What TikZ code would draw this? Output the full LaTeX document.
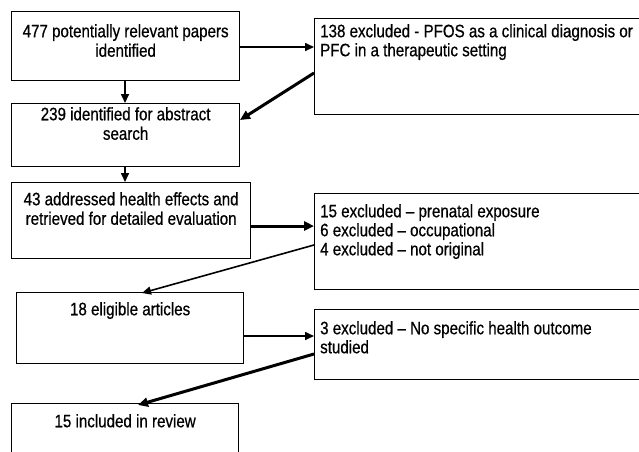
\documentclass[tikz,border=0pt]{standalone}
\usepackage{fontspec}
\setmainfont{Liberation Sans}[FakeStretch=0.84,FakeBold=0.6]
\usetikzlibrary{arrows.meta}
\begin{document}
\begin{tikzpicture}[x=1pt,y=-1pt,
  box/.style={draw=black,line width=1.3pt,anchor=north west,inner sep=0pt},
  ctext/.style={anchor=north,align=center,inner sep=0pt,font=\fontsize{18}{19.5}\selectfont},
  ltext/.style={anchor=north west,align=left,inner sep=0pt,font=\fontsize{18}{19}\selectfont},
  thin/.style={line width=1.6pt,-{Triangle[length=9pt,width=8pt]}},
  thick/.style={line width=3pt,-{Triangle[length=10pt,width=9pt]}}]
\useasboundingbox (0,0) rectangle (639,451);
% left boxes
\node[box,minimum width=228pt,minimum height=69pt] (b1) at (11,11) {};
\node[ctext] (t1) at ([yshift=-13pt]b1.north) {477 potentially relevant papers\\identified};
\node[box,minimum width=228pt,minimum height=63pt] (b2) at (11,103) {};
\node[ctext] (t2) at ([yshift=-4pt]b2.north) {239 identified for abstract\\search};
\node[box,minimum width=239pt,minimum height=76pt] (b3) at (11,182) {};
\node[ctext] (t3) at ([yshift=-10pt]b3.north) {43 addressed health effects and\\retrieved for detailed evaluation};
\node[box,minimum width=227pt,minimum height=71pt] (b4) at (16,292) {};
\node[ctext] (t4) at ([yshift=-10pt]b4.north) {18 eligible articles};
\node[box,minimum width=227pt,minimum height=60pt] (b5) at (11,403) {};
\node[ctext] (t5) at ([yshift=-11pt]b5.north) {15 included in review};
% right boxes
\node[box,minimum width=340pt,minimum height=96pt] (r1) at (314,18) {};
\node[ltext] (s1) at ([xshift=6pt,yshift=-6pt]r1.north west) {138 excluded - PFOS as a clinical diagnosis or\\PFC in a therapeutic setting};
\node[box,minimum width=340pt,minimum height=96pt] (r2) at (314,193) {};
\node[ltext] (s2) at ([xshift=6pt,yshift=-11pt]r2.north west) {15 excluded -- prenatal exposure\\6 excluded -- occupational\\4 excluded -- not original};
\node[box,minimum width=340pt,minimum height=70pt] (r3) at (314,309) {};
\node[ltext] (s3) at ([xshift=6pt,yshift=-12pt]r3.north west) {3 excluded -- No specific health outcome\\studied};
% connectors
\draw[thin] (b1.east |- 0,47) -- (r1.west |- 0,47);
\draw[thin] (b1.south -| 125,0) -- (b2.north -| 125,0);
\draw[thick] (r1.west |- 0,73) -- (240,120);
\draw[thin] (b2.south -| 125,0) -- (b3.north -| 125,0);
\draw[thick] (b3.east |- 0,226) -- (r2.west |- 0,226);
\draw[thin] (r2.west |- 0,245) -- (142,293);
\draw[thin] (b4.east |- 0,336) -- (r3.west |- 0,336);
\draw[thick] (r3.west |- 0,354) -- (138,405);
\end{tikzpicture}
\end{document}
